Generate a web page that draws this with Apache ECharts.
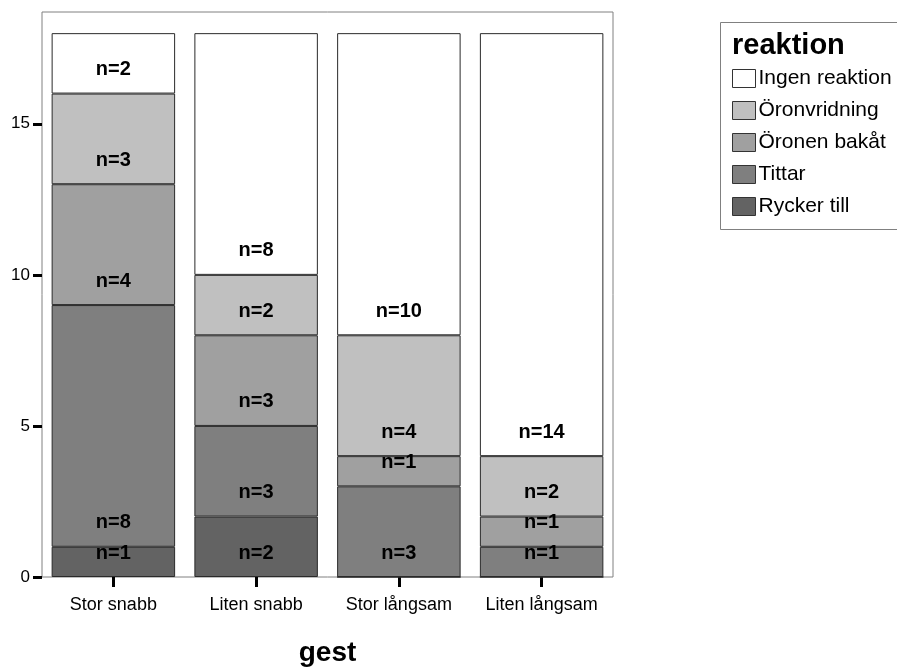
<!DOCTYPE html>
<html>
<head>
<meta charset="utf-8">
<script src="https://cdn.jsdelivr.net/npm/echarts@6/dist/echarts.min.js"></script>
<style>
html,body{margin:0;padding:0;background:#fff;}
#chart{width:897px;height:672px;}
</style>
</head>
<body>
<div id="chart"></div>
<script>
const categories = ['Stor snabb', 'Liten snabb', 'Stor långsam', 'Liten långsam'];
// stacked from bottom to top
const ryckerTill   = [1, 2, 0, 0];
const tittar       = [8, 3, 3, 1];
const oronenBakat  = [4, 3, 1, 1];
const oronvridning = [3, 2, 4, 2];
const ingenReaktion= [2, 8, 10, 14];
const yTicks = [0, 5, 10, 15];

const seriesDefs = [
  {name: 'Rycker till', data: ryckerTill, color: '#636363'},
  {name: 'Tittar', data: tittar, color: '#7f7f7f'},
  {name: 'Öronen bakåt', data: oronenBakat, color: '#a0a0a0'},
  {name: 'Öronvridning', data: oronvridning, color: '#c0c0c0'},
  {name: 'Ingen reaktion', data: ingenReaktion, color: '#ffffff'}
];

const FONT = '"Liberation Sans", Arial, sans-serif';
const chart = echarts.init(document.getElementById('chart'), null, {renderer: 'canvas'});

const series = seriesDefs.map(s => ({
  name: s.name,
  type: 'bar',
  stack: 'total',
  barCategoryGap: '13.5%',
  data: s.data,
  itemStyle: {color: s.color, borderColor: '#2a2a2a', borderWidth: 1},
  label: {
    show: true,
    position: 'insideBottom',
    distance: 14,
    formatter: p => p.value ? 'n=' + p.value : '',
    fontFamily: FONT,
    fontWeight: 'bold',
    fontSize: 20,
    lineHeight: 20,
    color: '#000'
  },
  emphasis: {disabled: true}
}));

chart.setOption({
  animation: false,
  backgroundColor: '#fff',
  grid: {left: 42, top: 12, right: 284, bottom: 90, show: true, borderColor: '#808080', borderWidth: 1, backgroundColor: 'transparent'},
  xAxis: {
    type: 'category',
    data: categories,
    name: 'gest',
    nameLocation: 'middle',
    nameGap: 62,
    nameTextStyle: {fontFamily: FONT, fontWeight: 'bold', fontSize: 28, color: '#000'},
    axisLine: {show: false},
    axisTick: {show: true, interval: 0, alignWithLabel: true, length: 10, lineStyle: {color: '#000', width: 3}},
    axisLabel: {interval: 0, fontFamily: FONT, fontSize: 18, color: '#000', margin: 19},
    splitLine: {show: false}
  },
  yAxis: {
    type: 'value',
    min: 0,
    max: 18.7,
    interval: 5,
    axisLine: {show: false},
    axisTick: {show: true, length: 9, lineStyle: {color: '#000', width: 3}},
    axisLabel: {
      fontFamily: FONT, fontSize: 17, color: '#000', margin: 12,
      showMaxLabel: false,
      formatter: v => yTicks.indexOf(v) >= 0 ? String(v) : ''
    },
    splitLine: {show: false}
  },
  legend: {
    orient: 'vertical',
    left: 732,
    top: 68,
    padding: 0,
    icon: 'rect',
    itemWidth: 23,
    itemHeight: 18,
    itemGap: 11,
    data: ['Ingen reaktion', 'Öronvridning', 'Öronen bakåt', 'Tittar', 'Rycker till'],
    textStyle: {fontFamily: FONT, fontSize: 21, color: '#000', lineHeight: 20, padding: [0, 0, 0, -2]},
    itemStyle: {borderColor: '#333', borderWidth: 1},
    selectedMode: false
  },
  graphic: [
    {type: 'rect', left: 718, top: 20, shape: {width: 200, height: 207}, style: {fill: 'none', stroke: '#808080', lineWidth: 1}, z: -1},
    {type: 'text', left: 732, top: 31, style: {text: 'reaktion', font: 'bold 29px ' + FONT, fill: '#000'}}
  ],
  series: series
});
</script>
</body>
</html>
